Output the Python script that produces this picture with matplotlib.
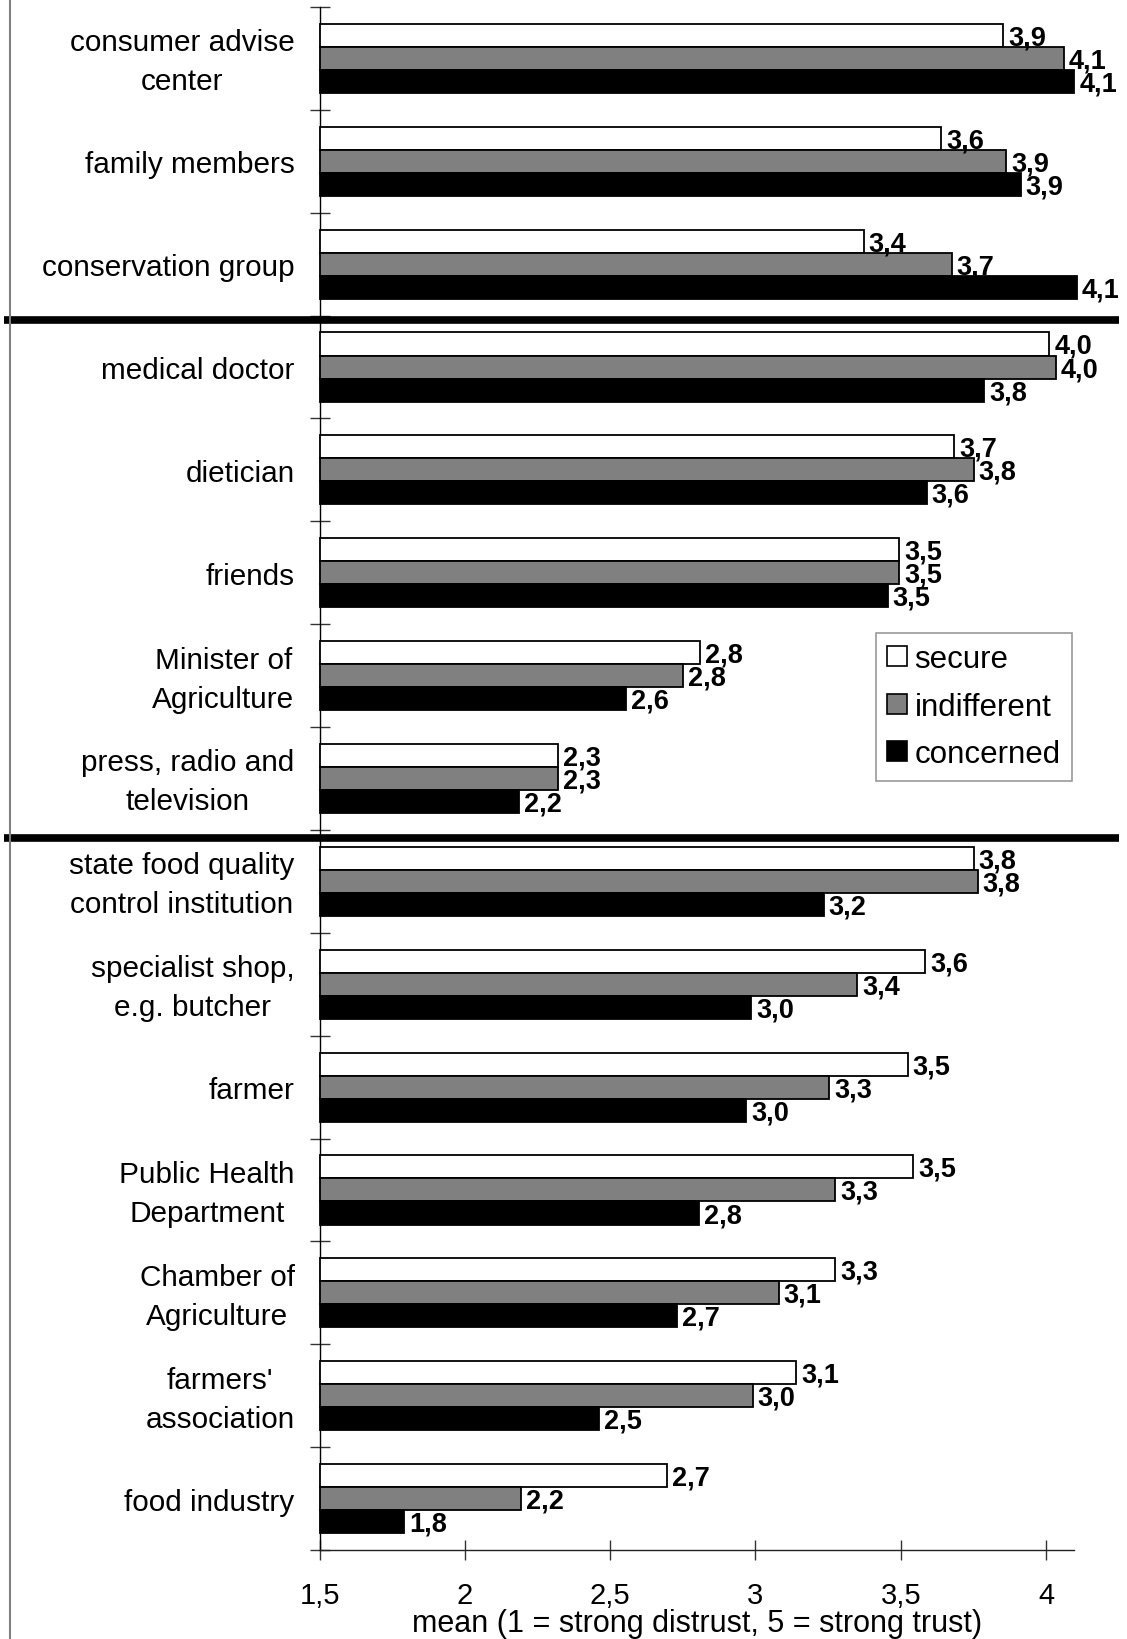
import matplotlib
matplotlib.use("Agg")
import matplotlib.pyplot as plt
from matplotlib import font_manager
from matplotlib.patches import Patch
from matplotlib.lines import Line2D
import matplotlib.transforms as mtransforms
from matplotlib.ticker import FixedLocator, FuncFormatter

# ---------------- data ----------------
categories = [
    "consumer advise\ncenter",
    "family members",
    "conservation group",
    "medical doctor",
    "dietician",
    "friends",
    "Minister of\nAgriculture",
    "press, radio and\ntelevision",
    "state food quality\ncontrol institution",
    "specialist shop,\ne.g. butcher",
    "farmer",
    "Public Health\nDepartment",
    "Chamber of\nAgriculture",
    "farmers'\nassociation",
    "food industry",
]
series_names = ["secure", "indifferent", "concerned"]
secure = [3.852, 3.639, 3.372, 4.011, 3.683, 3.495, 2.810, 2.319,
          3.751, 3.585, 3.524, 3.542, 3.275, 3.141, 2.694]
indifferent = [4.061, 3.863, 3.675, 4.033, 3.751, 3.495, 2.752, 2.319,
               3.765, 3.351, 3.253, 3.275, 3.080, 2.990, 2.193]
concerned = [4.097, 3.913, 4.105, 3.787, 3.589, 3.455, 2.553, 2.185,
             3.235, 2.986, 2.968, 2.806, 2.730, 2.460, 1.792]
x_ticks = [1.5, 2.0, 2.5, 3.0, 3.5, 4.0]
group_breaks = [3, 8]   # separators after these many categories
x_label = "mean (1 = strong distrust, 5 = strong trust)"

# ---------------- fonts ----------------
def has_font(name):
    try:
        font_manager.findfont(font_manager.FontProperties(family=name),
                              fallback_to_default=False)
        return True
    except Exception:
        return False

base_font = "Liberation Sans" if has_font("Liberation Sans") else "DejaVu Sans"
narrow_font = "Liberation Sans Narrow" if has_font("Liberation Sans Narrow") else None
plt.rcParams["font.family"] = [base_font, "DejaVu Sans"]

W, H = 1127, 1640
fig = plt.figure(figsize=(W / 100, H / 100), dpi=100)

ax_left, ax_right, ax_top, ax_bottom = 319.5, 1074, 8, 1551
ax = fig.add_axes([ax_left / W, 1 - ax_bottom / H,
                   (ax_right - ax_left) / W, (ax_bottom - ax_top) / H])

x0 = 1.5
xmax = 4.096
n = len(categories)
bh = 0.224
offsets = [-bh, 0.0, bh]
colors = ["#ffffff", "#808080", "#000000"]
series = [secure, indifferent, concerned]

for vals, off, col, name in zip(series, offsets, colors, series_names):
    ys = [i + off for i in range(n)]
    ax.barh(ys, [v - x0 for v in vals], left=x0, height=bh, color=col,
            edgecolor="black", linewidth=1.3, clip_on=False, label=name, zorder=3)
    for y, v in zip(ys, vals):
        ax.annotate(f"{v:.1f}".replace(".", ","), (v, y), xytext=(5, -9),
                    textcoords="offset pixels", va="baseline", ha="left",
                    fontsize=19.5, fontweight="bold", annotation_clip=False, zorder=4)

ax.set_xlim(x0, xmax)
ax.set_ylim(n - 0.5, -0.5)

for s in ["top", "right"]:
    ax.spines[s].set_visible(False)
ax.spines["left"].set_color("black")
ax.spines["bottom"].set_color("#222222")
ax.spines["left"].set_linewidth(1.0)
ax.spines["bottom"].set_linewidth(1.0)

# y axis: labels at centers, tick marks at boundaries
ax.set_yticks(range(n))
ax.set_yticklabels(categories, fontsize=21.4, multialignment="center", linespacing=1.5)
ax.tick_params(axis="y", which="major", length=0, pad=18)
shift_up = mtransforms.ScaledTranslation(0, 5 / 100, fig.dpi_scale_trans)
for lab in ax.get_yticklabels():
    if "\n" in lab.get_text():
        lab.set_transform(lab.get_transform() + shift_up)
ax.yaxis.set_minor_locator(FixedLocator([i - 0.5 for i in range(n + 1)]))
ax.tick_params(axis="y", which="minor", direction="inout", length=14.4,
               width=1.0, color="#333333")

# x axis
ax.set_xticks(x_ticks)
ax.xaxis.set_major_formatter(FuncFormatter(
    lambda v, p: (f"{v:g}").replace(".", ",")))
ax.tick_params(axis="x", which="major", direction="inout", length=14.4,
               width=1.0, color="#333333", pad=15, labelsize=21)

# x label
xl_kw = dict(ha="center", va="baseline")
if narrow_font:
    fig.text((ax_left + ax_right) / 2 / W, 1 - 1632 / H, x_label,
             fontsize=27, family=[narrow_font, "DejaVu Sans"], **xl_kw)
else:
    fig.text((ax_left + ax_right) / 2 / W, 1 - 1632 / H, x_label,
             fontsize=22, **xl_kw)

# group separators (figure-wide in x, data in y)
trans = mtransforms.blended_transform_factory(fig.transFigure, ax.transData)
sep_shift = [0.04, 0.08]
for b, sh in zip(group_breaks, sep_shift):
    yb = b - 0.5 + sh
    fig.add_artist(Line2D([4 / W, 1119 / W], [yb, yb], transform=trans,
                          color="black", linewidth=5.5, solid_capstyle="butt"))

# left border of the figure
fig.add_artist(Line2D([9.5 / W, 9.5 / W], [0, 1], transform=fig.transFigure,
                      color="#808080", linewidth=1.5))

# legend
handles = [Patch(facecolor=c, edgecolor="black", linewidth=1.2) for c in colors]
leg = fig.legend(handles, series_names, loc="upper left",
                 bbox_to_anchor=(876 / W, 1 - 634 / H), bbox_transform=fig.transFigure,
                 borderaxespad=0, fontsize=22.5, frameon=True, fancybox=False,
                 handlelength=0.62, handleheight=0.62, handletextpad=0.25,
                 labelspacing=0.56, borderpad=0.36)
leg.get_frame().set_edgecolor("#808080")
leg.get_frame().set_linewidth(1.2)

fig.savefig("out.png", dpi=100)
